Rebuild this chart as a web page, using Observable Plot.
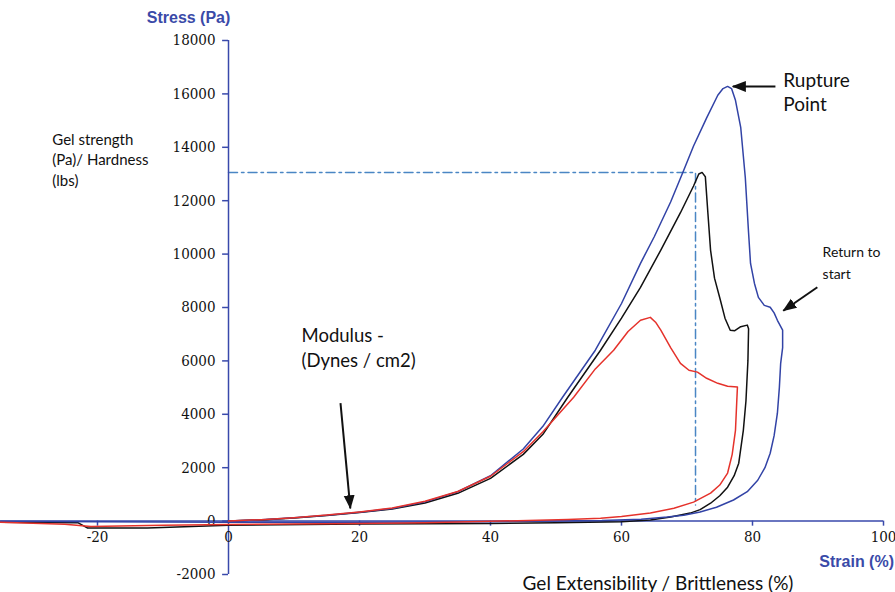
<!DOCTYPE html>
<html>
<head>
<meta charset="utf-8">
<script src="https://cdn.jsdelivr.net/npm/d3@7"></script>
<script src="https://cdn.jsdelivr.net/npm/@observablehq/plot@0.6"></script>
<style>
  html, body { margin: 0; padding: 0; background: #fff; }
  #chart svg { display: block; }
</style>
</head>
<body>
<div id="chart"></div>
<script>
// ---- Data (strain %, stress Pa) ----
const blueX = [0, 5, 10, 15, 20, 25, 30, 35, 40, 45, 48, 51, 56, 60, 62.9, 65, 67.5, 69.5, 71, 73, 74.7, 75.5, 76.2, 76.8, 77.4, 78.2, 78.9, 79.4, 79.7, 80.3, 80.9, 81.8, 82.7, 83.3, 83.8, 84.6, 84.6, 84.3, 84.1, 83.8, 83.3, 82.7, 81.9, 80.8, 79.2, 77.1, 74.5, 72, 69.5, 67, 63, 57, 50, 40, 20, 0, -10, -20, -34.8];
const blueY = [0, 50, 125, 215, 335, 470, 720, 1100, 1700, 2700, 3550, 4640, 6400, 8150, 9655, 10650, 11950, 13140, 14050, 15100, 15950, 16200, 16280, 16200, 15760, 14750, 12870, 10800, 9650, 8900, 8380, 8080, 8010, 7800, 7520, 7150, 6500, 5910, 5000, 4040, 3200, 2540, 2000, 1530, 1100, 790, 520, 340, 220, 150, 70, 20, 0, -20, -40, -40, -30, -20, -10];

const blackX = [0, 5, 10, 15, 20, 25, 30, 35, 40, 45, 48, 51.8, 56.8, 60, 62.9, 66, 69, 71, 71.8, 72.3, 72.8, 73.2, 73.6, 74.2, 75.1, 75.8, 76.6, 77.3, 78.2, 79.2, 79.4, 79.3, 79.0, 78.6, 77.9, 77.2, 76.2, 75, 73.6, 72, 70.5, 67.5, 64.4, 60, 50, 40, 20, 0, -12.4, -21.5, -23, -34.8];
const blackY = [0, 45, 115, 205, 325, 450, 680, 1040, 1600, 2500, 3250, 4640, 6400, 7600, 8750, 10150, 11550, 12550, 13000, 13060, 12900, 11500, 10140, 9100, 8270, 7600, 7150, 7130, 7280, 7340, 7200, 6000, 4500, 3400, 2170, 1700, 1270, 950, 670, 430, 300, 150, 40, -20, -60, -90, -110, -160, -260, -260, -60, -40];

const redX = [0, 5, 10, 15, 20, 25, 30, 35, 40, 45, 48, 52.7, 56, 58.8, 61, 62.9, 64.4, 65.2, 66, 67.5, 69, 70.3, 71.6, 73, 74.7, 76.2, 77.7, 77.6, 77.4, 76.9, 76.2, 75, 73.6, 71, 68, 64.4, 60, 56.8, 51.8, 41.5, 30, 20, 0, -10, -21, -25, -34.8];
const redY = [0, 55, 130, 225, 345, 490, 740, 1110, 1680, 2600, 3350, 4640, 5700, 6400, 7100, 7520, 7630, 7450, 7150, 6500, 5910, 5650, 5580, 5350, 5160, 5050, 5020, 4500, 3400, 2500, 1800, 1350, 1050, 710, 480, 300, 170, 110, 60, 0, -60, -90, -130, -160, -200, -120, -40];

// Reference dash-dot guide (peak of black curve)
const guideX = [0, 71.3, 71.3];
const guideY = [13060, 13060, 600];

// Tick labels
const xTicks = [-20, 20, 40, 60, 80, 100];
const xTickLabels = [-20, 0, 20, 40, 60, 80, 100];
const yTicks = [-2000, 0, 2000, 4000, 6000, 8000, 10000, 12000, 14000, 16000, 18000];

// Annotations
const annotationTexts = {
  yTitle: "Stress (Pa)",
  xTitle: "Strain (%)",
  gel: "Gel strength\n(Pa)/ Hardness\n(lbs)",
  rupture: "Rupture\nPoint",
  ret: "Return to\nstart",
  modulus: "Modulus -\n(Dynes / cm2)",
  ext: "Gel Extensibility / Brittleness (%)"
};

const toRows = (xs, ys) => xs.map((x, i) => ({x, y: ys[i]}));
const blue = toRows(blueX, blueY);
const black = toRows(blackX, blackY);
const red = toRows(redX, redY);
const guide = toRows(guideX, guideY);

const AXIS = "#3949ab";
const BLUE = "#3243a6";
const RED = "#e5322b";
const BLACK = "#111111";
const GUIDE = "#4a86c4";
const SERIF = "DejaVu Serif Condensed";
const SANS = "Liberation Sans, Arial, sans-serif";
const CAL = "Lato, sans-serif";

function headMarker(color, context) {
  const m = d3.create("svg:marker")
    .attr("viewBox", "-7 -7 14 14")
    .attr("markerWidth", 14)
    .attr("markerHeight", 14)
    .attr("markerUnits", "userSpaceOnUse")
    .attr("refX", 6)
    .attr("refY", 0)
    .attr("orient", "auto");
  m.append("path").attr("d", "M-7,-5.5L7,0L-7,5.5Z").attr("fill", color).attr("stroke", "none");
  return m.node();
}

const arrows = [
  {x1: 83.5, y1: 16280, x2: 77.0, y2: 16280},
  {x1: 89.9, y1: 8760, x2: 84.7, y2: 7880},
  {x1: 17.1, y1: 4420, x2: 18.6, y2: 480}
];

function build(marker) {
  return Plot.plot({
    width: 895,
    height: 592,
    marginLeft: 0,
    marginRight: 12,
    marginTop: 40,
    marginBottom: 18,
    x: {domain: [-34.81, 100], axis: null},
    y: {domain: [-2000, 18000], axis: null},
    style: {background: "white", overflow: "visible"},
    marks: [
      Plot.line(guide, {x: "x", y: "y", stroke: GUIDE, strokeWidth: 1.5, strokeDasharray: "9,4,2.5,4"}),
      Plot.ruleY([0], {x1: -34.81, x2: 100, stroke: AXIS, strokeWidth: 1.5}),
      Plot.ruleX([0], {y1: -2000, y2: 18000, stroke: AXIS, strokeWidth: 1.5}),
      Plot.ruleY(yTicks, {x1: -0.9, x2: 0, stroke: AXIS, strokeWidth: 1.5}),
      Plot.ruleX(xTicks, {y1: 0, y2: -190, stroke: AXIS, strokeWidth: 1.5}),
      Plot.text(yTicks, {x: 0, y: d => d, text: d => String(d), dx: -13, textAnchor: "end", lineAnchor: "middle", fontFamily: SERIF, fontSize: 15, fill: "#111"}),
      Plot.text(xTickLabels, {x: d => d, y: 0, text: d => String(d), dy: 16, textAnchor: "middle", lineAnchor: "middle", fontFamily: SERIF, fontSize: 15, fill: "#111"}),
      Plot.line(black, {x: "x", y: "y", stroke: BLACK, strokeWidth: 1.5}),
      Plot.line(blue, {x: "x", y: "y", stroke: BLUE, strokeWidth: 1.5}),
      Plot.line(red, {x: "x", y: "y", stroke: RED, strokeWidth: 1.5}),
      Plot.link(arrows, {x1: "x1", y1: "y1", x2: "x2", y2: "y2", stroke: "#111", strokeWidth: 2, markerEnd: marker}),
      Plot.text([annotationTexts.yTitle], {x: -6.1, y: 18860, text: d => d, textAnchor: "middle", lineAnchor: "middle", fontFamily: SANS, fontWeight: "bold", fontSize: 16, fill: "#3a4aa8"}),
      Plot.text([annotationTexts.xTitle], {x: 101.6, y: -1540, text: d => d, textAnchor: "end", lineAnchor: "middle", fontFamily: SANS, fontWeight: "bold", fontSize: 16, fill: "#3a4aa8"}),
      Plot.text([annotationTexts.gel], {x: -26.9, y: 13580, text: d => d, textAnchor: "start", lineAnchor: "middle", lineHeight: 1.37, fontFamily: CAL, fontSize: 15, fill: "#111"}),
      Plot.text([annotationTexts.rupture], {x: 84.7, y: 16105, text: d => d, textAnchor: "start", lineAnchor: "middle", lineHeight: 1.26, fontFamily: CAL, fontSize: 19, fill: "#111"}),
      Plot.text([annotationTexts.ret], {x: 90.7, y: 9760, text: d => d, textAnchor: "start", lineAnchor: "middle", lineHeight: 1.57, fontFamily: CAL, fontSize: 14, fill: "#111"}),
      Plot.text([annotationTexts.modulus], {x: 11.15, y: 6536, text: d => d, textAnchor: "start", lineAnchor: "middle", lineHeight: 1.35, fontFamily: CAL, fontSize: 18.5, fill: "#111"}),
      Plot.text([annotationTexts.ext], {x: 44.9, y: -2340, text: d => d, textAnchor: "start", lineAnchor: "middle", fontFamily: CAL, fontSize: 19, fill: "#111"})
    ]
  });
}

let chart;
try { chart = build(headMarker); } catch (e) { chart = build("arrow"); }
document.getElementById("chart").appendChild(chart);
</script>
</body>
</html>
